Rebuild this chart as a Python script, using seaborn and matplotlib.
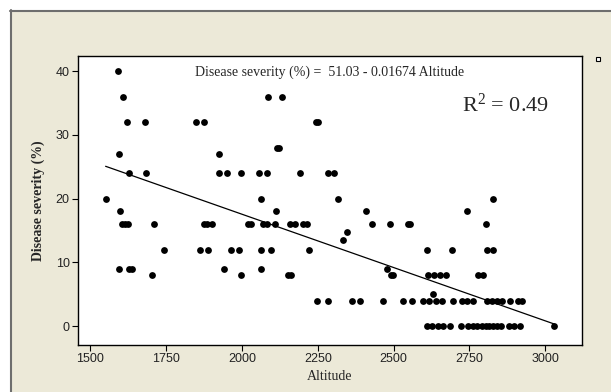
import matplotlib
matplotlib.use("Agg")
import matplotlib.pyplot as plt
import seaborn as sns
import pandas as pd
import numpy as np
from matplotlib.lines import Line2D
from matplotlib.patches import Rectangle

# ---- data ----
alt_40 = [1592]
alt_36 = [1609, 2085, 2132]
alt_32 = [1620, 1680, 1848, 1876, 2245, 2252]
alt_28 = [2116, 2123]
alt_27 = [1595, 1924]
alt_24 = [1627, 1682, 1924, 1950, 1997, 2055, 2081, 2191, 2283, 2303]
alt_20 = [1550, 2061, 2315, 2826]
alt_18 = [1599, 2112, 2410, 2743]
alt_16 = [1605, 1614, 1623, 1711, 1873, 1886, 1900, 2020, 2030, 2068, 2081,
          2108, 2158, 2176, 2200, 2213, 2428, 2487, 2546, 2554, 2803]
alt_15 = [2345]
alt_135 = [2334]
alt_12 = [1742, 1862, 1888, 1964, 1991, 2063, 2095, 2222, 2611, 2692, 2807, 2829]
alt_9 = [1593, 1628, 1638, 1942, 2061, 2479]
alt_8 = [1703, 1998, 2153, 2162, 2490, 2499, 2612, 2632, 2652, 2672, 2779, 2796]
alt_5 = [2631]
alt_4 = [2246, 2285, 2362, 2389, 2466, 2531, 2560, 2596, 2618, 2640, 2659,
         2695, 2725, 2741, 2761, 2807, 2824, 2840, 2857, 2882, 2911, 2922]
alt_0 = [2609, 2625, 2645, 2662, 2686, 2722, 2745, 2760, 2775, 2790, 2803,
         2815, 2828, 2842, 2855, 2880, 2898, 2915, 3030]

groups = [(40, alt_40), (36, alt_36), (32, alt_32), (28, alt_28), (27, alt_27),
          (24, alt_24), (20, alt_20), (18, alt_18), (16, alt_16), (14.8, alt_15),
          (13.5, alt_135), (12, alt_12), (9, alt_9), (8, alt_8), (5, alt_5),
          (4, alt_4), (0, alt_0)]

intercept = 51.03
slope = -0.01674
x_ticks = [1500, 1750, 2000, 2250, 2500, 2750, 3000]
y_ticks = [0, 10, 20, 30, 40]
eq_text = "Disease severity (%) =  51.03 - 0.01674 Altitude"
r2_text = "R$^2$ = 0.49"

rows = []
for v, alts in groups:
    for a in alts:
        rows.append({"Altitude": a, "Severity": v})
df = pd.DataFrame(rows)

fit_x = np.array([df["Altitude"].min(), df["Altitude"].max()])
fit = pd.DataFrame({"Altitude": fit_x, "Severity": intercept + slope * fit_x})

# ---- figure ----
sns.set_theme(style="white")
plt.rcParams["font.family"] = ["Liberation Serif", "DejaVu Serif"]
plt.rcParams["mathtext.fontset"] = "custom"
plt.rcParams["mathtext.rm"] = "Liberation Serif"
plt.rcParams["mathtext.it"] = "Liberation Serif:italic"
plt.rcParams["mathtext.default"] = "rm"

bg = "#ECE9D8"
fig = plt.figure(figsize=(6.11, 3.92), dpi=100, facecolor="white")
# beige window area
fig.add_artist(Rectangle((10 / 611, 0), 1, 1 - 10 / 392, transform=fig.transFigure,
                         facecolor=bg, edgecolor="none", zorder=-10))
fig.add_artist(Line2D([10 / 611, 1], [1 - 10.5 / 392, 1 - 10.5 / 392],
                      transform=fig.transFigure, color="#6e6e6e", lw=1.5))
fig.add_artist(Line2D([10.5 / 611, 10.5 / 611], [0, 1 - 10 / 392],
                      transform=fig.transFigure, color="#6e6e6e", lw=1.5))
fig.add_artist(Rectangle((596 / 611, 1 - 61 / 392), 4 / 611, 4 / 392,
                         transform=fig.transFigure, facecolor="white",
                         edgecolor="black", lw=0.8))

ax = fig.add_axes([78 / 611, 1 - 345 / 392, (582 - 78) / 611, (345 - 56) / 392])
ax.set_facecolor("white")

sns.scatterplot(data=df, x="Altitude", y="Severity", ax=ax, color="black",
                s=24, edgecolor="black", linewidth=0, zorder=3)
sns.lineplot(data=fit, x="Altitude", y="Severity", ax=ax, color="black",
             lw=0.9, zorder=2)

ax.set_xlim(1459, 3121)
ax.set_ylim(-2.98, 42.4)
ax.set_xticks(x_ticks)
ax.set_yticks(y_ticks)
ax.set_xticklabels([str(t) for t in x_ticks], family="Liberation Sans", fontsize=9)
ax.set_yticklabels([str(t) for t in y_ticks], family="Liberation Sans", fontsize=9)
ax.tick_params(axis="both", direction="out", length=4, width=0.8, color="black",
               bottom=True, left=True, pad=2, labelcolor="#222222")

for sp in ax.spines.values():
    sp.set_visible(True)
    sp.set_color("black")
    sp.set_linewidth(1.0)

ax.set_xlabel("Altitude", fontsize=10, labelpad=3)
ax.set_ylabel("Disease severity (%)", fontsize=10, fontweight="bold", labelpad=8)

ax.text(0.5, 0.945, eq_text, transform=ax.transAxes, ha="center", va="center",
        fontsize=10)
ax.text(0.935, 0.83, r2_text, transform=ax.transAxes, ha="right", va="center",
        fontsize=16)

fig.savefig("out.png", dpi=100, facecolor="white")
